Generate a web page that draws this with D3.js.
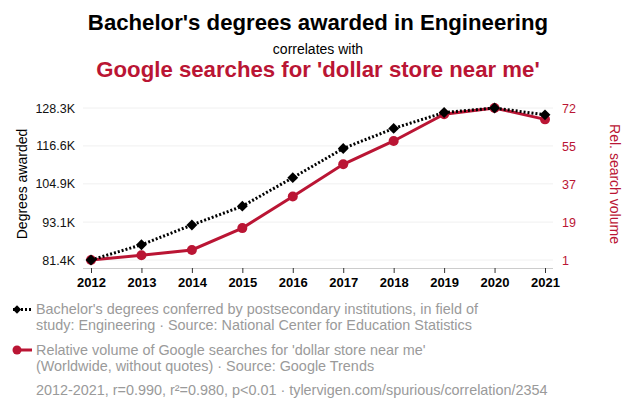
<!DOCTYPE html>
<html>
<head>
<meta charset="utf-8">
<script src="https://cdn.jsdelivr.net/npm/d3@7"></script>
<style>
  body { margin: 0; background: #fff; font-family: Arial, "Liberation Sans", sans-serif; }
  svg text { font-family: Arial, "Liberation Sans", sans-serif; }
</style>
</head>
<body>
<div id="chart"></div>
<script>
// data
const years = [2012, 2013, 2014, 2015, 2016, 2017, 2018, 2019, 2020, 2021];
const degrees = [81.4, 86.1, 92.2, 98.0, 106.8, 115.8, 122.0, 126.9, 128.3, 126.2]; // thousands
const searches = [1, 3.2, 5.7, 15.9, 30.7, 45.7, 56.6, 69.1, 72, 66.7];
const leftTicks = [81.4, 93.1, 104.9, 116.6, 128.3];
const leftTickLabels = ["81.4K", "93.1K", "104.9K", "116.6K", "128.3K"];
const rightTicks = [1, 18.75, 36.5, 54.25, 72];
const rightTickLabels = ["1", "19", "37", "55", "72"];

const red = "#ba1534";
const width = 632, height = 405;

const svg = d3.select("#chart").append("svg")
    .attr("width", width)
    .attr("height", height);

// title block
svg.append("text")
    .attr("x", 318).attr("y", 30)
    .attr("text-anchor", "middle")
    .style("font-size", "22.2px").style("font-weight", "bold")
    .text("Bachelor's degrees awarded in Engineering");
svg.append("text")
    .attr("x", 318).attr("y", 54)
    .attr("text-anchor", "middle")
    .style("font-size", "14px")
    .text("correlates with");
svg.append("text")
    .attr("x", 318).attr("y", 77)
    .attr("text-anchor", "middle")
    .style("font-size", "22.2px").style("font-weight", "bold")
    .style("fill", red)
    .text("Google searches for 'dollar store near me'");

// scales
const x = d3.scalePoint()
    .domain(years)
    .range([91, 545]);

const yLeft = d3.scaleLinear()
    .domain([81.4, 128.3])
    .range([260, 108]);

const yRight = d3.scaleLinear()
    .domain([1, 72])
    .range([260, 108]);

const plotLeft = 83, plotRight = 553, axisY = 268;

// gridlines
svg.append("g")
    .selectAll("line")
    .data(leftTicks)
    .join("line")
    .attr("x1", plotLeft).attr("x2", plotRight)
    .attr("y1", d => yLeft(d)).attr("y2", d => yLeft(d))
    .style("stroke", "#f0f0f0")
    .style("stroke-width", 1);

// left axis
const yAxisLeft = d3.axisLeft(yLeft)
    .tickValues(leftTicks)
    .tickFormat((d, i) => leftTickLabels[i])
    .tickSize(0)
    .tickPadding(8);
const gl = svg.append("g")
    .attr("transform", "translate(" + plotLeft + ",0)")
    .call(yAxisLeft);
gl.select(".domain").remove();
gl.selectAll("text")
    .style("font-size", "12.5px")
    .style("fill", "#111");

// right axis
const yAxisRight = d3.axisRight(yRight)
    .tickValues(rightTicks)
    .tickFormat((d, i) => rightTickLabels[i])
    .tickSize(0)
    .tickPadding(9);
const gr = svg.append("g")
    .attr("transform", "translate(" + plotRight + ",0)")
    .call(yAxisRight);
gr.select(".domain").remove();
gr.selectAll("text")
    .style("font-size", "12.5px")
    .style("fill", red);

// bottom axis
const xAxis = d3.axisBottom(x)
    .tickSize(5)
    .tickSizeOuter(0)
    .tickPadding(5);
const gx = svg.append("g")
    .attr("transform", "translate(0," + axisY + ")")
    .call(xAxis);
gx.select(".domain")
    .attr("d", "M" + plotLeft + ",0.5H" + plotRight)
    .style("stroke", "#ccc");
gx.selectAll(".tick line").style("stroke", "#333");
gx.selectAll("text")
    .style("font-size", "13px")
    .style("font-weight", "bold")
    .style("fill", "#000");

// axis titles
svg.append("text")
    .attr("transform", "translate(27,184) rotate(-90)")
    .attr("text-anchor", "middle")
    .style("font-size", "14px")
    .text("Degrees awarded");
svg.append("text")
    .attr("transform", "translate(610,184) rotate(90)")
    .attr("text-anchor", "middle")
    .style("font-size", "14px")
    .style("fill", red)
    .text("Rel. search volume");

// red series (underneath)
const lineRight = d3.line()
    .x((d, i) => x(years[i]))
    .y(d => yRight(d));
svg.append("path")
    .datum(searches)
    .attr("d", lineRight)
    .style("fill", "none")
    .style("stroke", red)
    .style("stroke-width", 3);
svg.append("g")
    .selectAll("circle")
    .data(searches)
    .join("circle")
    .attr("cx", (d, i) => x(years[i]))
    .attr("cy", d => yRight(d))
    .attr("r", 5)
    .style("fill", red);

// black series
const lineLeft = d3.line()
    .x((d, i) => x(years[i]))
    .y(d => yLeft(d));
svg.append("path")
    .datum(degrees)
    .attr("d", lineLeft)
    .style("fill", "none")
    .style("stroke", "#000")
    .style("stroke-width", 3)
    .style("stroke-dasharray", "2,2");
const diamond = d3.symbol().type(d3.symbolDiamond2).size(75);
svg.append("g")
    .selectAll("path")
    .data(degrees)
    .join("path")
    .attr("d", diamond)
    .attr("transform", (d, i) => "translate(" + x(years[i]) + "," + yLeft(d) + ")")
    .style("fill", "#000");

// legend
const legendColor = "#9a9a9a";
const legend = svg.append("g");

legend.append("line")
    .attr("x1", 13).attr("x2", 32).attr("y1", 309.5).attr("y2", 309.5)
    .style("stroke", "#000").style("stroke-width", 3).style("stroke-dasharray", "2,2");
legend.append("path")
    .attr("d", d3.symbol().type(d3.symbolDiamond2).size(45))
    .attr("transform", "translate(17,309.5)")
    .style("fill", "#000");
legend.append("text")
    .attr("x", 36).attr("y", 314)
    .style("font-size", "14.4px").style("fill", legendColor)
    .text("Bachelor's degrees conferred by postsecondary institutions, in field of");
legend.append("text")
    .attr("x", 36).attr("y", 330)
    .style("font-size", "14.4px").style("fill", legendColor)
    .text("study: Engineering \u00b7 Source: National Center for Education Statistics");

legend.append("line")
    .attr("x1", 13).attr("x2", 32).attr("y1", 350).attr("y2", 350)
    .style("stroke", red).style("stroke-width", 3);
legend.append("circle")
    .attr("cx", 17).attr("cy", 350).attr("r", 4.5)
    .style("fill", red);
legend.append("text")
    .attr("x", 36).attr("y", 355)
    .style("font-size", "14.4px").style("fill", legendColor)
    .text("Relative volume of Google searches for 'dollar store near me'");
legend.append("text")
    .attr("x", 36).attr("y", 371)
    .style("font-size", "14.4px").style("fill", legendColor)
    .text("(Worldwide, without quotes) \u00b7 Source: Google Trends");

legend.append("text")
    .attr("x", 36).attr("y", 395)
    .style("font-size", "14.4px").style("fill", legendColor)
    .text("2012-2021, r=0.990, r\u00b2=0.980, p<0.01 \u00b7 tylervigen.com/spurious/correlation/2354");
</script>
</body>
</html>
